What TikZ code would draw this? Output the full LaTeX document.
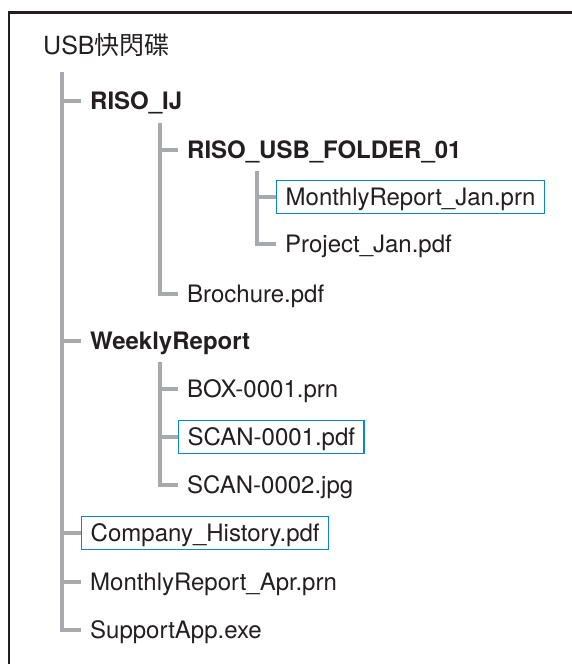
\documentclass[tikz,border=0pt]{standalone}
\usepackage{fontspec}
\setmainfont{TeX Gyre Heros}
\newfontfamily\cjk{Noto Sans CJK TC}
\definecolor{txt}{HTML}{231F20}
\definecolor{treegray}{HTML}{A7A9AC}
\definecolor{hlblue}{HTML}{0A85CF}
\definecolor{framec}{HTML}{231F20}
\begin{document}
\begin{tikzpicture}[x=1pt,y=-1pt,
  item/.style={anchor=west, font=\fontsize{24}{28}\selectfont, text=txt,
    inner xsep=9pt, inner ysep=0pt, text height=20pt, text depth=3pt, minimum height=33pt},
  folder/.style={item, font=\fontsize{24}{28}\selectfont\bfseries},
  hl/.style={draw=hlblue, line width=1.4pt},
  tree/.style={draw=treegray, line width=4pt, line join=miter}]
\useasboundingbox[fill=white] (0,0) rectangle (572,664);
% frame (top and left edges)
\draw[framec, line width=2.5pt] (9,664) -- (9,12.7) -- (572,12.7);
% title
\node[anchor=west, inner sep=0pt, text=txt, font=\fontsize{25}{30}\selectfont] (title) at (43,45) {USB{\cjk 快閃碟}};
% entries
\node[folder] (r1) at (81,101) {RISO\_IJ};
\node[folder] (r2) at (178,150) {RISO\_USB\_FOLDER\_01};
\node[item,hl] (f1) at (276,197) {MonthlyReport\_Jan.prn};
\node[item] (f2) at (276,244) {Project\_Jan.pdf};
\node[item] (f3) at (178,294) {Brochure.pdf};
\node[folder] (w) at (81,341) {WeeklyReport};
\node[item] (b1) at (178,389) {BOX-0001.prn};
\node[item,hl] (b2) at (178,437) {SCAN-0001.pdf};
\node[item] (b3) at (178,485) {SCAN-0002.jpg};
\node[item,hl] (c) at (81,533) {Company\_History.pdf};
\node[item] (m) at (81,582) {MonthlyReport\_Apr.prn};
\node[item] (s) at (81,630) {SupportApp.exe};
% trunk tops
\coordinate (t0) at (62,72);
\coordinate (t1) at (160,123);
\coordinate (t2) at (257,171);
\coordinate (t3) at (160,362);
% level 0
\draw[tree] (t0) |- (s.west);
\draw[tree] (t0 |- r1.west) -- (r1.west);
\draw[tree] (t0 |- w.west) -- (w.west);
\draw[tree] (t0 |- c.west) -- (c.west);
\draw[tree] (t0 |- m.west) -- (m.west);
% under RISO_IJ
\draw[tree] (t1) |- (f3.west);
\draw[tree] (t1 |- r2.west) -- (r2.west);
% under RISO_USB_FOLDER_01
\draw[tree] (t2) |- (f2.west);
\draw[tree] (t2 |- f1.west) -- (f1.west);
% under WeeklyReport
\draw[tree] (t3) |- (b3.west);
\draw[tree] (t3 |- b1.west) -- (b1.west);
\draw[tree] (t3 |- b2.west) -- (b2.west);
\end{tikzpicture}
\end{document}
